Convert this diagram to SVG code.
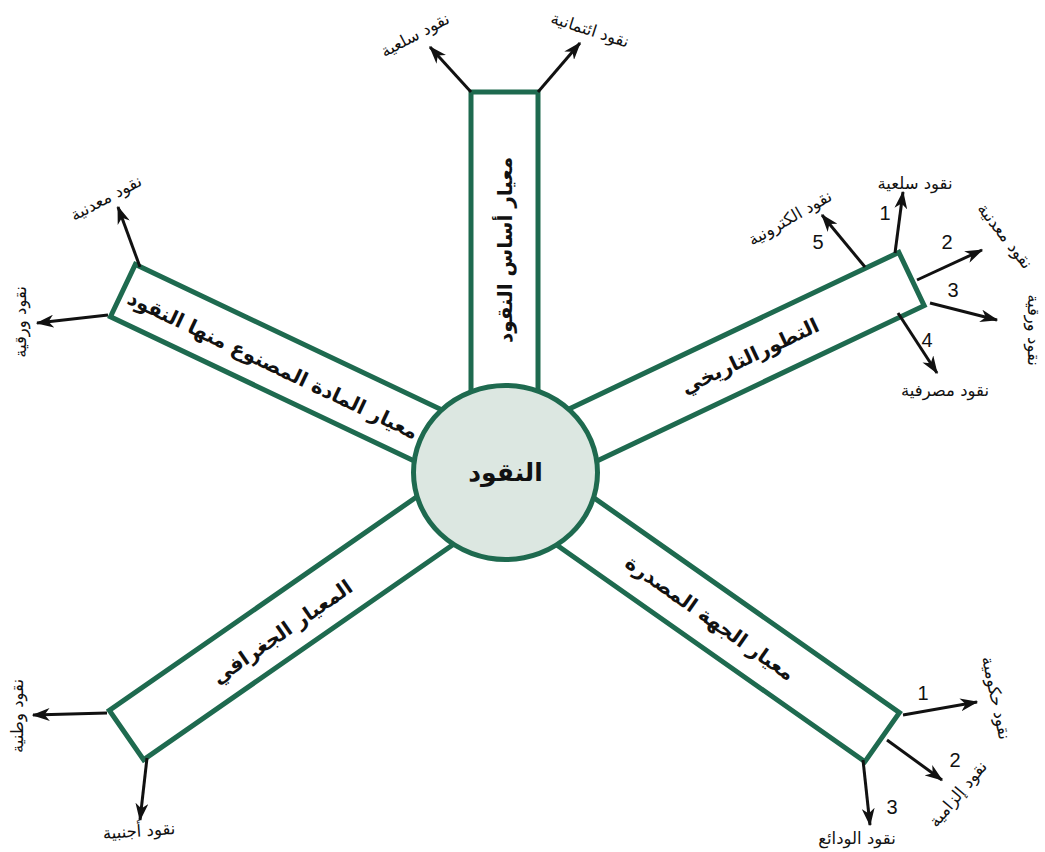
<svg xmlns="http://www.w3.org/2000/svg" width="1045" height="852" viewBox="0 0 1045 852">
  <style>
    .arm { fill: #ffffff; stroke: #1e6a4f; stroke-width: 5; }
    .hub { fill: #dce7e1; stroke: #1e6a4f; stroke-width: 5; }
    .title { font-family: 'DejaVu Sans', 'Noto Sans', sans-serif; font-weight: bold; font-size: 20px; fill: #111; text-anchor: middle; dominant-baseline: central; }
    .hubtxt { font-family: 'DejaVu Sans', 'Noto Sans', sans-serif; font-weight: bold; font-size: 25px; fill: #111; text-anchor: middle; dominant-baseline: central; }
    .lbl { font-family: 'DejaVu Sans', 'Noto Sans', sans-serif; font-size: 16.5px; fill: #111; text-anchor: middle; dominant-baseline: central; }
    .num { font-family: 'Liberation Sans', Arial, sans-serif; font-size: 20px; fill: #111; text-anchor: middle; dominant-baseline: central; }
    .arrow { stroke: #111; stroke-width: 3; fill: none; marker-end: url(#ah); }
  </style>
  <defs>
    <marker id="ah" viewBox="0 0 14 10" refX="13" refY="5" markerWidth="18" markerHeight="13" markerUnits="userSpaceOnUse" orient="auto">
      <path d="M0,0 L14,5 L0,10 L4,5 z" fill="#111"/>
    </marker>
  </defs>
  <rect width="1045" height="852" fill="#ffffff"/>

  <!-- arms radiating from the hub -->
  <g id="arm-basis">
    <rect class="arm" x="471" y="92" width="67" height="330"/>
    <text class="title" transform="translate(505,250) rotate(-90)">معيار أساس النقود</text>
  </g>
  <g id="arm-history">
    <rect class="arm" transform="translate(505,472) rotate(-25.4)" x="0" y="-29.5" width="450" height="59"/>
    <text class="title" transform="translate(750,356) rotate(-25.4)">التطورالتاريخي</text>
  </g>
  <g id="arm-material">
    <rect class="arm" transform="translate(505,472) rotate(205.4)" x="0" y="-29" width="423" height="58"/>
    <text class="title" transform="translate(273,365) rotate(25.4)">معيار المادة المصنوع منها النقود</text>
  </g>
  <g id="arm-geography">
    <rect class="arm" transform="translate(505,472) rotate(145.2)" x="0" y="-30" width="461" height="60"/>
    <text class="title" transform="translate(282,632) rotate(-34.8)">المعيار الجغرافي</text>
  </g>
  <g id="arm-issuer">
    <rect class="arm" transform="translate(505,472) rotate(35.1)" x="0" y="-30" width="461" height="60"/>
    <text class="title" transform="translate(710,618) rotate(35.1)">معيار الجهة المصدرة</text>
  </g>

  <!-- central hub -->
  <g id="hub">
    <ellipse class="hub" cx="505.5" cy="472.5" rx="92" ry="87"/>
    <text class="hubtxt" x="505.5" y="472">النقود</text>
  </g>

  <!-- branch arrows -->
  <g id="connectors">
    <line class="arrow" x1="471" y1="92" x2="430" y2="47"/>
    <line class="arrow" x1="538" y1="92" x2="580" y2="43"/>

    <line class="arrow" x1="895" y1="253" x2="903" y2="192"/>
    <line class="arrow" x1="865" y1="267" x2="822" y2="215"/>
    <line class="arrow" x1="917" y1="280" x2="982" y2="250"/>
    <line class="arrow" x1="930" y1="303" x2="997" y2="320"/>
    <line class="arrow" x1="898" y1="313" x2="937" y2="373"/>

    <line class="arrow" x1="140" y1="267" x2="118" y2="207"/>
    <line class="arrow" x1="108" y1="315" x2="37" y2="323"/>

    <line class="arrow" x1="107" y1="713" x2="33" y2="715"/>
    <line class="arrow" x1="147" y1="758" x2="140" y2="820"/>

    <line class="arrow" x1="903" y1="715" x2="977" y2="702"/>
    <line class="arrow" x1="887" y1="740" x2="942" y2="780"/>
    <line class="arrow" x1="863" y1="760" x2="870" y2="825"/>
  </g>

  <!-- branch labels -->
  <g id="labels-basis">
    <text class="lbl" transform="translate(415,35) rotate(-28)">نقود سلعية</text>
    <text class="lbl" transform="translate(590,30) rotate(18)">نقود ائتمانية</text>
  </g>
  <g id="labels-history">
    <text class="lbl" x="915" y="183">نقود سلعية</text>
    <text class="lbl" transform="translate(790,218) rotate(-30)">نقود الكترونية</text>
    <text class="lbl" transform="translate(1005,236) rotate(52)">نقود معدنية</text>
    <text class="lbl" transform="translate(1033,330) rotate(90)">نقود ورقية</text>
    <text class="lbl" x="945" y="390">نقود مصرفية</text>
    <text class="num" x="885" y="213">1</text>
    <text class="num" x="947" y="242">2</text>
    <text class="num" x="953" y="290">3</text>
    <text class="num" x="927" y="340">4</text>
    <text class="num" x="818" y="242">5</text>
  </g>
  <g id="labels-material">
    <text class="lbl" transform="translate(106,198) rotate(-28)">نقود معدنية</text>
    <text class="lbl" transform="translate(20,322) rotate(-90)">نقود ورقية</text>
  </g>
  <g id="labels-geography">
    <text class="lbl" transform="translate(17,716) rotate(-90)">نقود وطنية</text>
    <text class="lbl" transform="translate(139,831) rotate(-4)">نقود أجنبية</text>
  </g>
  <g id="labels-issuer">
    <text class="lbl" transform="translate(996,698) rotate(78)">نقود حكومية</text>
    <text class="lbl" transform="translate(958,794) rotate(-50)">نقود إلزامية</text>
    <text class="lbl" x="857" y="838">نقود الودائع</text>
    <text class="num" x="923" y="693">1</text>
    <text class="num" x="955" y="760">2</text>
    <text class="num" x="892" y="807">3</text>
  </g>
</svg>
